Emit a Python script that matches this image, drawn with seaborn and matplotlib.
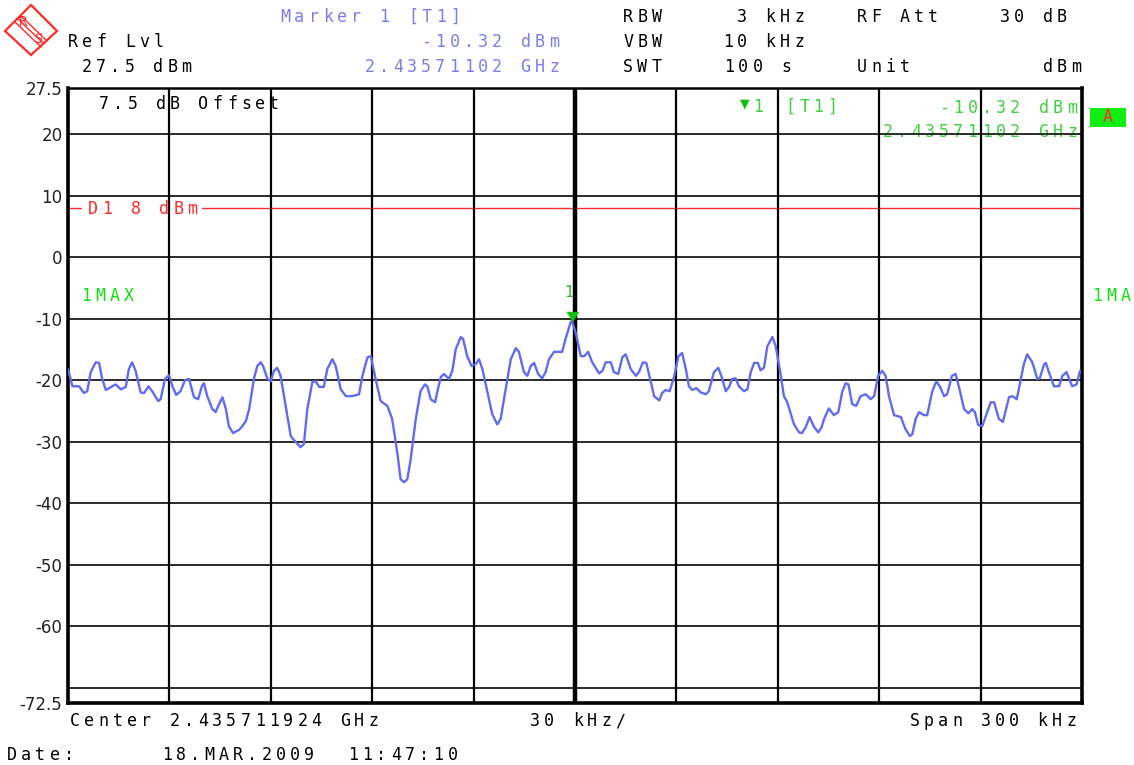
# -*- coding: utf-8 -*-
# spectrum analyzer screen, redrawn with seaborn / matplotlib

import numpy as np
import pandas as pd
import matplotlib
matplotlib.use("Agg")
import matplotlib.pyplot as plt
import matplotlib.patches as mpatches
import seaborn as sns

# (1) DATA  ---> trace, offset from center in kHz / level in dBm
freq_khz = [
    -150.0, -148.7, -146.7, -145.3, -144.3, -143.3, -141.8, -140.8, -139.9, -138.8,
    -135.9, -134.4, -132.9, -132.0, -131.0, -130.0, -128.5, -127.5, -126.2, -125.1,
    -123.3, -122.6, -121.3, -120.1, -119.1, -118.0, -116.7, -115.4, -114.2, -112.7,
    -111.5, -110.4, -109.8, -108.8, -107.3, -106.3, -105.3, -104.3, -103.3, -102.4,
    -101.2, -99.4, -98.6, -97.4, -96.4, -95.0, -94.0, -93.0, -92.3, -91.0,
    -90.0, -89.1, -88.1, -87.1, -85.6, -84.1, -82.6, -81.2, -80.2, -79.2,
    -77.7, -76.7, -75.7, -74.3, -73.3, -71.8, -70.8, -69.3, -67.8, -65.9,
    -63.9, -62.9, -61.4, -60.4, -59.0, -57.5, -55.5, -54.1, -52.6, -51.6,
    -50.6, -49.6, -48.6, -47.1, -45.7, -44.4, -43.7, -42.7, -41.4, -40.7,
    -39.7, -38.8, -37.3, -36.3, -35.3, -33.8, -33.1, -31.9, -30.6, -29.4,
    -28.4, -27.4, -25.9, -24.5, -23.0, -22.0, -20.5, -19.0, -17.5, -16.6,
    -15.1, -14.1, -13.1, -12.1, -10.9, -9.7, -8.7, -7.7, -6.2, -5.2,
    -3.8, -2.8, -1.3, -0.9, 0.3, 1.7, 2.7, 3.9, 5.1, 7.1,
    8.1, 9.1, 10.6, 11.5, 12.8, 14.0, 15.0, 16.5, 18.0, 18.9,
    20.1, 21.1, 22.4, 23.4, 24.9, 25.8, 26.8, 28.0, 29.3, 30.6,
    31.7, 32.8, 33.7, 34.7, 35.9, 37.2, 38.7, 39.6, 41.1, 42.4,
    43.4, 44.6, 45.6, 46.5, 47.5, 48.5, 50.0, 51.0, 52.0, 53.0,
    54.1, 54.9, 55.9, 56.9, 58.4, 59.4, 60.9, 61.8, 62.8, 64.8,
    66.3, 67.2, 68.3, 69.4, 70.7, 72.0, 73.0, 73.7, 75.1, 76.6,
    77.9, 79.1, 80.1, 80.9, 82.0, 83.2, 84.5, 86.0, 87.5, 88.5,
    89.7, 90.9, 91.9, 92.9, 94.4, 96.4, 97.8, 99.1, 99.8, 100.8,
    101.8, 103.3, 104.2, 105.7, 106.9, 107.9, 109.2, 110.1, 111.5, 112.6,
    113.6, 115.1, 116.4, 117.5, 118.3, 119.3, 120.5, 121.5, 123.0, 124.0,
    125.4, 126.6, 127.4, 128.4, 129.4, 130.7, 131.9, 132.8, 133.8, 135.3,
    136.8, 137.5, 138.8, 139.3, 140.2, 141.7, 143.2, 144.2, 145.4, 146.2,
    147.1, 148.4, 149.4,
]
level_dbm = [
    -18.2, -21.0, -21.0, -22.1, -21.8, -18.7, -17.1, -17.2, -19.8, -21.6,
    -20.7, -21.5, -21.1, -18.2, -17.1, -18.5, -22.0, -22.1, -21.0, -21.8,
    -23.4, -23.1, -19.8, -19.2, -21.0, -22.4, -21.8, -20.0, -19.8, -22.8,
    -23.1, -21.0, -20.5, -22.6, -24.7, -25.2, -23.9, -22.8, -24.7, -27.5,
    -28.6, -28.1, -27.6, -26.7, -24.7, -19.8, -17.7, -17.1, -17.7, -19.8,
    -20.2, -18.5, -18.0, -19.3, -24.2, -29.1, -30.1, -30.9, -30.4, -24.7,
    -20.3, -20.2, -21.1, -21.1, -18.2, -16.6, -17.7, -21.5, -22.6, -22.6,
    -22.3, -19.3, -16.3, -16.1, -19.8, -23.4, -24.2, -26.3, -31.7, -36.1,
    -36.6, -36.1, -32.8, -26.3, -21.8, -20.7, -21.0, -23.1, -23.6, -21.8,
    -19.5, -19.0, -19.8, -18.5, -15.0, -13.0, -13.3, -16.1, -17.7, -17.4,
    -16.6, -18.2, -22.0, -25.5, -27.2, -26.3, -21.5, -16.6, -14.8, -15.4,
    -18.7, -19.3, -17.7, -17.2, -19.0, -19.7, -18.7, -16.6, -15.4, -15.4,
    -15.4, -13.3, -10.6, -10.32, -12.5, -16.1, -16.1, -15.4, -17.1, -18.9,
    -18.5, -17.1, -17.1, -18.7, -19.0, -16.3, -15.8, -18.2, -19.3, -18.7,
    -17.1, -17.2, -20.2, -22.6, -23.3, -22.1, -21.6, -21.8, -19.5, -16.1,
    -15.6, -18.2, -21.0, -21.6, -21.3, -22.0, -22.3, -21.8, -18.7, -18.0,
    -19.5, -21.8, -21.1, -19.8, -19.7, -21.0, -21.8, -21.5, -18.7, -17.2,
    -17.2, -18.4, -18.0, -14.5, -13.0, -14.5, -19.3, -22.6, -23.6, -27.2,
    -28.5, -28.6, -27.6, -26.0, -27.6, -28.5, -27.6, -26.3, -24.6, -25.7,
    -25.2, -21.8, -20.5, -20.7, -23.9, -24.2, -22.6, -22.3, -23.1, -22.6,
    -19.3, -18.5, -19.3, -22.6, -25.7, -26.0, -28.0, -29.1, -28.8, -26.3,
    -25.2, -25.7, -25.7, -21.8, -20.2, -21.0, -22.6, -22.3, -19.3, -19.0,
    -21.1, -24.7, -25.4, -24.7, -25.2, -27.3, -27.5, -25.9, -23.6, -23.6,
    -26.3, -26.8, -25.0, -22.8, -22.6, -23.1, -19.8, -17.4, -15.8, -17.1,
    -19.8, -19.7, -17.4, -17.2, -18.7, -21.0, -21.0, -19.3, -18.7, -19.8,
    -21.0, -20.7, -18.5,
]

marker_khz = -0.904      # 2.43571102 GHz minus center
marker_dbm = -10.32
d1_dbm = 8
ref_lvl = 27.5
bottom_lvl = -72.5
span_khz = 300
div_khz = 30
ytick_vals = [27.5, 20, 10, 0, -10, -20, -30, -40, -50, -60, -72.5]
ytick_labels = ["27.5", "20", "10", "0", "-10", "-20", "-30", "-40", "-50", "-60", "-72.5"]
hgrid_vals = [20, 10, 0, -10, -20, -30, -40, -50, -60, -70]

trace = pd.DataFrame({"freq": freq_khz, "level": level_dbm})

# colours
TRACE = "#5f6cf2"
BLUE = "#7a7cf0"
GREEN = "#11dd11"
LGREEN = "#3fcf3f"
RED = "#ff2a2a"

# (2) FIGURE
W, H = 1134, 765
sns.set_style("white")
plt.rcParams["font.family"] = ["DejaVu Sans Mono", "DejaVu Sans"]
fig = plt.figure(figsize=(W / 100, H / 100), dpi=100)
ax = fig.add_axes([68 / W, 1 - 703 / H, (1082 - 68) / W, (703 - 88) / H])


def fxy(x, y):
    # screen pixel (top-left origin) -> figure fraction
    return x / W, 1 - y / H


def spaced(x, y, s, color="black", ha="left", step=14.2, size=12, z=1.7):
    # the analyzer font is very wide, so put one char at a time
    if ha == "right":
        x = x - len(s) * step
    for i, ch in enumerate(s):
        if ch == " ":
            continue
        ax.text(*fxy(x + i * step + step / 2, y), ch, transform=fig.transFigure,
                ha="center", va="center", fontsize=size, color=color,
                zorder=z, clip_on=False)


# (3) TRACE
sns.lineplot(data=trace, x="freq", y="level", ax=ax, color=TRACE, lw=1.7,
             estimator=None, sort=False, zorder=3)

ax.set_xlim(-span_khz / 2, span_khz / 2)
ax.set_ylim(bottom_lvl, ref_lvl)
ax.set_xticks([])
ax.set_yticks(ytick_vals)
ax.set_yticklabels(ytick_labels, fontfamily="DejaVu Sans", fontsize=12, color="#222222")
ax.tick_params(axis="y", length=0, pad=4)
ax.set_xlabel("")
ax.set_ylabel("")

# grid
for v in hgrid_vals:
    ax.axhline(v, color="#2a2a2a", lw=1.4, zorder=2)
for f in np.arange(-span_khz / 2 + div_khz, span_khz / 2, div_khz):
    ax.axvline(f, color="black", lw=3.2 if abs(f) < 1e-6 else 1.6, zorder=2)

for side in ["left", "right", "bottom"]:
    ax.spines[side].set_linewidth(2.6)
    ax.spines[side].set_color("black")
ax.spines["top"].set_linewidth(1.8)
ax.spines["top"].set_color("black")

# display line D1, with a gap behind its label
ax.axhline(d1_dbm, color=RED, lw=1.0, zorder=1.5)
ax.add_patch(mpatches.Rectangle(fxy(82, 216), 120 / W, 14 / H, transform=fig.transFigure,
                                facecolor="white", edgecolor="none", zorder=1.6))
spaced(86, 209, "D1 8 dBm", color=RED)

# marker on trace
ax.plot([marker_khz], [marker_dbm], marker=[(-1, 1.6), (1, 1.6), (0, 0)], ms=13,
        color="#10c010", ls="none", zorder=4)
ax.annotate("1", (marker_khz, marker_dbm), xytext=(-2, 15), textcoords="offset points",
            ha="center", va="bottom", color="#22bb22", fontsize=11, zorder=4)

# (4) TEXT ON SCREEN
# logo
logo = mpatches.Polygon([fxy(5, 31), fxy(31, 5), fxy(57, 31), fxy(31, 55)], closed=True,
                        transform=fig.transFigure, facecolor="none", edgecolor=RED, lw=1.6)
fig.patches.append(logo)
for d in (-3, 0, 3):
    fig.lines.append(plt.Line2D([(18 + d) / W, (44 + d) / W], [1 - (19 - d) / H, 1 - (44 - d) / H],
                                transform=fig.transFigure, color=RED, lw=1.0))
fig.text(*fxy(23, 22), "R", color=RED, fontsize=10, ha="center", va="center")
fig.text(*fxy(39, 39), "S", color=RED, fontsize=10, ha="center", va="center")

# header
spaced(278, 17, "Marker 1 [T1]", color=BLUE)
spaced(66, 42, "Ref Lvl")
spaced(561, 42, "-10.32 dBm", color=BLUE, ha="right")
spaced(80, 67, "27.5 dBm")
spaced(561, 67, "2.43571102 GHz", color=BLUE, ha="right")
spaced(621, 17, "RBW")
spaced(806, 17, "3 kHz", ha="right")
spaced(855, 17, "RF Att")
spaced(1069, 17, "30 dB", ha="right")
spaced(621, 42, "VBW")
spaced(806, 42, "10 kHz", ha="right")
spaced(621, 67, "SWT")
spaced(722, 67, "100 s")
spaced(855, 67, "Unit")
spaced(1083, 67, "dBm", ha="right")

# inside the grid
spaced(97, 104, "7.5 dB Offset")
ax.text(*fxy(745, 104), "\u25bc", transform=fig.transFigure, ha="center", va="center",
        fontsize=9, color="#10c010", fontfamily="DejaVu Sans", zorder=1.7)
spaced(751, 107, "1", color=LGREEN)
spaced(783, 107, "[T1]", color=LGREEN)
spaced(1079, 108, "-10.32 dBm", color=LGREEN, ha="right")
spaced(1079, 132, "2.43571102 GHz", color=LGREEN, ha="right")
spaced(79, 296, "1MAX", color=GREEN)
spaced(1090, 296, "1MA", color=GREEN)

# "A" box right of the grid
fig.patches.append(mpatches.Rectangle(fxy(1090, 127), 36 / W, 19 / H, transform=fig.transFigure,
                                      facecolor="#11ee11", edgecolor="none"))
fig.text(*fxy(1108, 117), "A", color=RED, fontsize=12, ha="center", va="center")

# footer
spaced(68, 721, "Center 2.435711924 GHz")
spaced(528, 721, "30 kHz/")
spaced(1078, 721, "Span 300 kHz", ha="right")
spaced(5, 755, "Date:")
spaced(160, 755, "18.MAR.2009")
spaced(346, 755, "11:47:10")

plt.savefig("out.png", dpi=100)
